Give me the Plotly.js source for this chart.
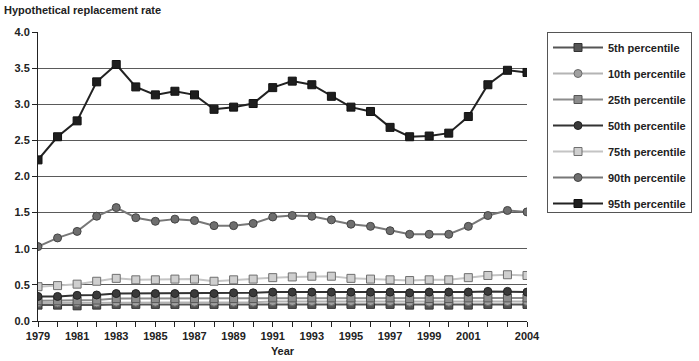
<!DOCTYPE html>
<html>
<head>
<meta charset="utf-8">
<script src="https://cdn.plot.ly/plotly-3.0.1.min.js"></script>
<style>html,body{margin:0;padding:0;background:#fff;}#chart{width:699px;height:361px;}</style>
</head>
<body>
<div id="chart"></div>
<script>
const years = [1979,1980,1981,1982,1983,1984,1985,1986,1987,1988,1989,1990,1991,1992,1993,1994,1995,1996,1997,1998,1999,2000,2001,2002,2003,2004];
const p5  = [0.22,0.22,0.21,0.22,0.23,0.23,0.23,0.23,0.23,0.23,0.23,0.23,0.23,0.23,0.23,0.23,0.23,0.23,0.23,0.22,0.22,0.22,0.22,0.23,0.23,0.23];
const p10 = [0.25,0.25,0.25,0.25,0.26,0.26,0.26,0.26,0.26,0.26,0.26,0.26,0.27,0.27,0.27,0.27,0.27,0.27,0.27,0.26,0.26,0.26,0.27,0.27,0.27,0.27];
const p25 = [0.28,0.28,0.28,0.29,0.31,0.31,0.31,0.31,0.31,0.31,0.31,0.31,0.32,0.32,0.32,0.32,0.32,0.32,0.32,0.31,0.31,0.31,0.32,0.32,0.32,0.32];
const p50 = [0.34,0.34,0.355,0.36,0.38,0.38,0.38,0.38,0.38,0.38,0.39,0.39,0.40,0.40,0.40,0.40,0.40,0.40,0.40,0.39,0.40,0.40,0.40,0.41,0.41,0.40];
const p75 = [0.475,0.49,0.51,0.55,0.59,0.57,0.57,0.58,0.58,0.55,0.57,0.58,0.60,0.61,0.62,0.62,0.59,0.58,0.57,0.56,0.57,0.57,0.60,0.63,0.64,0.63];
const p90 = [1.03,1.15,1.24,1.45,1.57,1.43,1.38,1.41,1.39,1.32,1.32,1.35,1.44,1.46,1.45,1.40,1.34,1.31,1.25,1.20,1.20,1.20,1.31,1.46,1.53,1.51];
const p95 = [2.23,2.55,2.77,3.31,3.55,3.24,3.13,3.18,3.13,2.93,2.96,3.01,3.23,3.32,3.27,3.11,2.96,2.90,2.68,2.55,2.56,2.60,2.83,3.27,3.47,3.44];
const seriesNames = ["5th percentile","10th percentile","25th percentile","50th percentile","75th percentile","90th percentile","95th percentile"];
const xLabelYears = [1979,1981,1983,1985,1987,1989,1991,1993,1995,1997,1999,2001,2004];
const yTicks = [0,0.5,1,1.5,2,2.5,3,3.5,4];

const styles = [
  {line:'#555555', fill:'#555555', border:'#333333', symbol:'square'},
  {line:'#b4b4b4', fill:'#a0a0a0', border:'#6a6a6a', symbol:'circle'},
  {line:'#8c8c8c', fill:'#8c8c8c', border:'#555555', symbol:'square'},
  {line:'#333333', fill:'#3a3a3a', border:'#222222', symbol:'circle'},
  {line:'#c4c4c4', fill:'#cfcfcf', border:'#6f6f6f', symbol:'square'},
  {line:'#777777', fill:'#6e6e6e', border:'#444444', symbol:'circle'},
  {line:'#222222', fill:'#1e1e1e', border:'#111111', symbol:'square'}
];
const values = [p5,p10,p25,p50,p75,p90,p95];
const traces = values.map((v,i)=>({
  x: years, y: v, name: seriesNames[i], type:'scatter', mode:'lines+markers',
  legendgroup: 'g'+i,
  line:{color:styles[i].line, width:2},
  marker:{symbol:styles[i].symbol, size:8, color:styles[i].fill, line:{color:styles[i].border, width:1}}
}));

const layout = {
  width:699, height:361,
  margin:{l:38, r:172, t:32, b:40},
  paper_bgcolor:'#fff', plot_bgcolor:'#fff',
  font:{family:'"Liberation Sans", Arial, sans-serif', size:11, color:'#222', weight:'bold'},
  showlegend:true,
  legend:{xref:'container', yref:'container', x:547/699, xanchor:'left', y:1-32/361, yanchor:'top',
    bordercolor:'#555', borderwidth:1,
    bgcolor:'#fff', traceorder:'grouped', tracegroupgap:7, itemwidth:50, entrywidth:140,
    font:{family:'"Liberation Sans", Arial, sans-serif', size:11, color:'#222', weight:'bold'}},
  xaxis:{range:[1979,2004], tickmode:'array', tickvals:years,
    ticktext: years.map(y=> xLabelYears.includes(y) ? String(y) : ''),
    ticks:'outside', ticklen:5, tickcolor:'#222', showline:true, linecolor:'#222', linewidth:1,
    showgrid:false, zeroline:false,
    tickfont:{size:11, color:'#222', weight:'bold'},
    title:{text:'Year', font:{size:11, color:'#222', weight:'bold'}, standoff:6}},
  yaxis:{range:[0,4], tickmode:'array', tickvals:yTicks, ticktext: yTicks.map(t=>t.toFixed(1)),
    ticks:'outside', ticklen:5, tickcolor:'#222', showline:true, linecolor:'#222', linewidth:1,
    showgrid:true, gridcolor:'#5a5a5a', gridwidth:1, zeroline:false,
    tickfont:{size:11, color:'#222', weight:'bold'}},
  annotations:[{text:'Hypothetical replacement rate', xref:'paper', yref:'paper', x:-0.073, y:1.0, xanchor:'left', yanchor:'bottom', yshift:14, showarrow:false,
    font:{size:11, color:'#222', weight:'bold'}}]
};
Plotly.newPlot('chart', traces, layout, {displayModeBar:false, staticPlot:true});
</script>
</body>
</html>
